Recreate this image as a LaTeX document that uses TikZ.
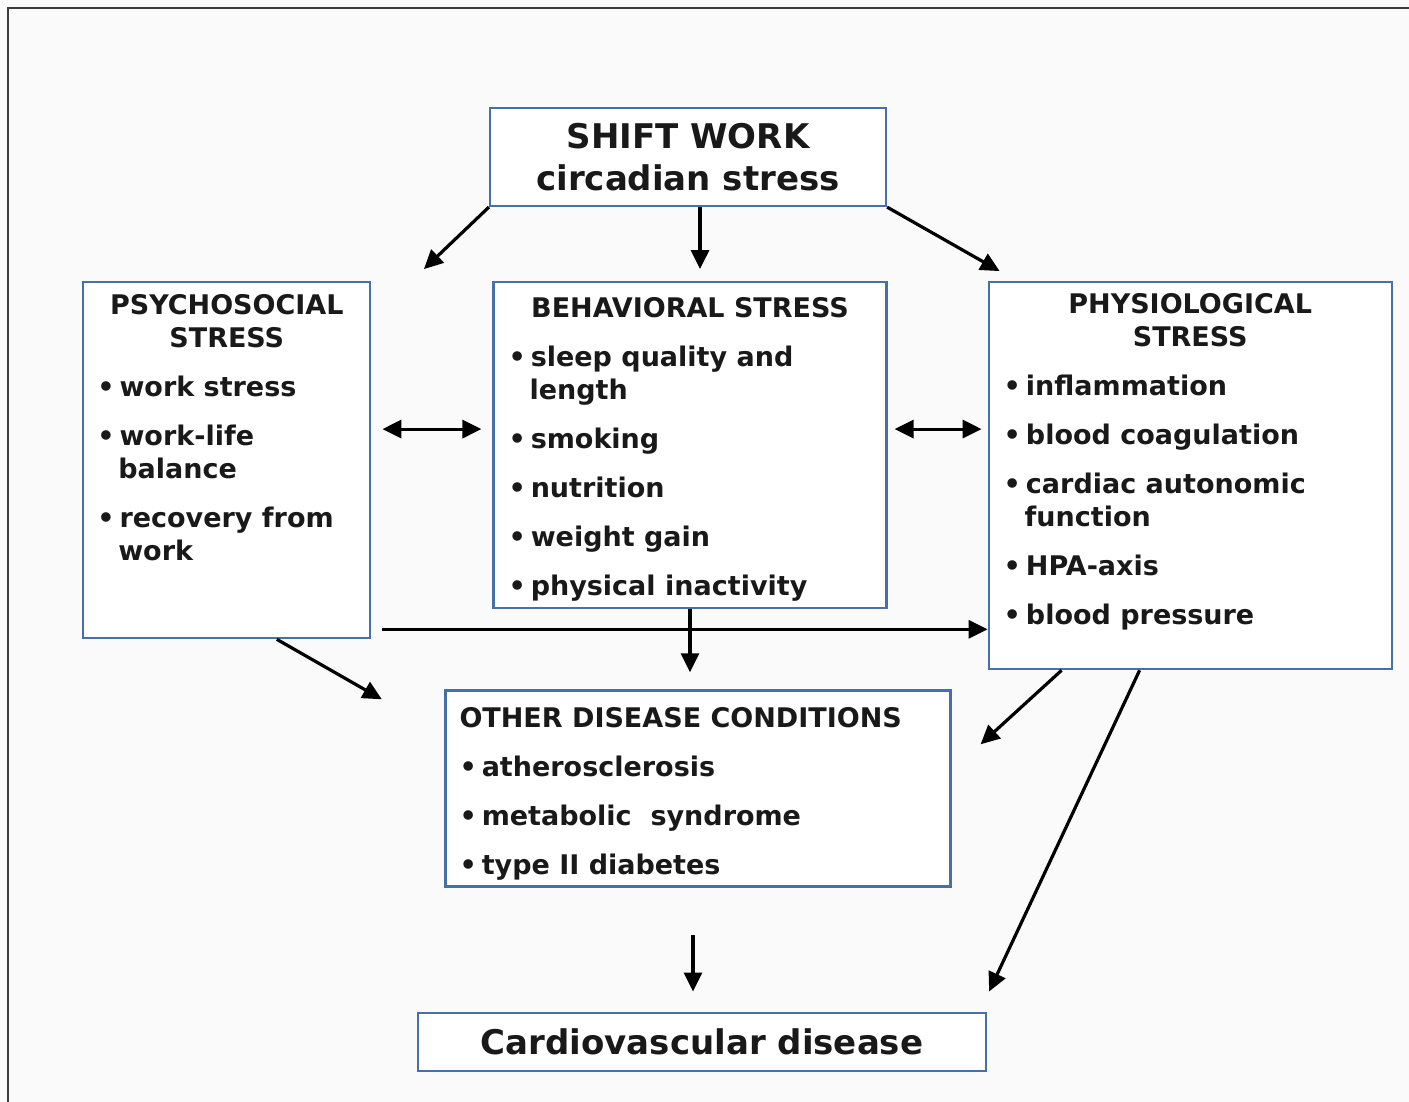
\documentclass[tikz,border=0pt]{standalone}
\usepackage{fontspec}
\newfontfamily\diagfont{DejaVu Sans}
\usetikzlibrary{arrows.meta, positioning}
\definecolor{boxblue}{RGB}{72,112,168}
\definecolor{framegray}{RGB}{60,60,60}
\newcommand{\boxtext}[3]{\parbox[c][#2][t]{#1}{\raggedright #3}}
\newcommand{\bitem}[1]{\par\vspace{16pt}\hangindent=21pt\hangafter=1\noindent\textbullet\hspace{5pt}#1}
\tikzset{
    stressbox/.style={rectangle, draw=boxblue, line width=2.2pt, fill=white, inner sep=0pt, text=black!90, font=\diagfont\bfseries\fontsize{27}{33}\selectfont},
    titlebox/.style={stressbox, align=center, font=\diagfont\bfseries\fontsize{34}{42}\selectfont},
    arrow/.style={line width=3.2pt, -{Triangle[length=19pt,width=18pt]}},
    dblarrow/.style={line width=3.2pt, {Triangle[length=19pt,width=18pt]}-{Triangle[length=19pt,width=18pt]}}
}
\begin{document}
\begin{tikzpicture}[x=1pt, y=1pt]
    \useasboundingbox (0,0) rectangle (1409,-1102);
    \fill[white!98!black] (0,0) rectangle (1409,-1102);
    % Frame
    \draw[framegray, line width=2pt] (8,-1102) -- (8,-8) -- (1409,-8);
    % Shift work
    \node (shift_work) [titlebox, minimum width=396pt, minimum height=98pt] at (688,-157) {SHIFT WORK\\circadian stress};
    % Stress boxes
    \node (behav) [stressbox, minimum width=393pt, minimum height=326pt, below=74pt of shift_work, xshift=2pt] {\boxtext{363pt}{296pt}{{\centering BEHAVIORAL STRESS\par}
        \bitem{sleep quality and\newline length}
        \bitem{smoking}
        \bitem{nutrition}
        \bitem{weight gain}
        \bitem{physical inactivity}}};
    \node (psycho) [stressbox, minimum width=287pt, minimum height=356pt, left=121pt of behav.north west, anchor=north east] {\boxtext{259pt}{332pt}{{\centering PSYCHOSOCIAL\\STRESS\par}
        \bitem{work stress}
        \bitem{work-life\newline balance}
        \bitem{recovery from\newline work}}};
    \node (physio) [stressbox, minimum width=403pt, minimum height=387pt, right=100pt of behav.north east, anchor=north west] {\boxtext{373pt}{365pt}{{\centering PHYSIOLOGICAL\\STRESS\par}
        \bitem{inflammation}
        \bitem{blood coagulation}
        \bitem{cardiac autonomic\newline function}
        \bitem{HPA-axis}
        \bitem{blood pressure}}};
    % Outcomes
    \node (other_cond) [stressbox, minimum width=505pt, minimum height=196pt, below=80pt of behav, xshift=8pt] {\boxtext{477pt}{162pt}{OTHER DISEASE CONDITIONS
        \bitem{atherosclerosis}
        \bitem{metabolic~~syndrome}
        \bitem{type II diabetes}}};
    \node (cvd) [titlebox, minimum width=568pt, minimum height=58pt, below=124pt of other_cond, xshift=4pt] {Cardiovascular disease};
    % Arrows
    \draw [arrow] (shift_work.south west) -- ++(-65,-62);
    \draw [arrow] ([xshift=12pt]shift_work.south) -- ([shift={(10pt,12pt)}]behav.north);
    \draw [arrow] (shift_work.south east) -- ([shift={(12pt,10pt)}]physio.north west);
    \draw [dblarrow] ([shift={(11pt,-148pt)}]psycho.north east) -- ([shift={(-11pt,-148pt)}]behav.north west);
    \draw [dblarrow] ([shift={(7pt,-148pt)}]behav.north east) -- ([shift={(-6pt,-148pt)}]physio.north west);
    \draw [arrow] ([shift={(11pt,10pt)}]psycho.south east) coordinate (hline) -- (hline -| physio.west);
    \draw [arrow, shorten >=17pt] (behav.south) -- (behav.south |- other_cond.north);
    \draw [arrow] ([xshift=50pt]psycho.south) -- ++(105,-60);
    \draw [arrow] ([xshift=74pt]physio.south west) -- ([shift={(29pt,-55pt)}]other_cond.north east);
    \draw [arrow] ([xshift=152pt]physio.south west) -- ([shift={(2pt,20pt)}]cvd.north east);
    \draw [arrow] ([shift={(-5pt,-47pt)}]other_cond.south) -- ([shift={(-9pt,20pt)}]cvd.north);
\end{tikzpicture}
\end{document}
